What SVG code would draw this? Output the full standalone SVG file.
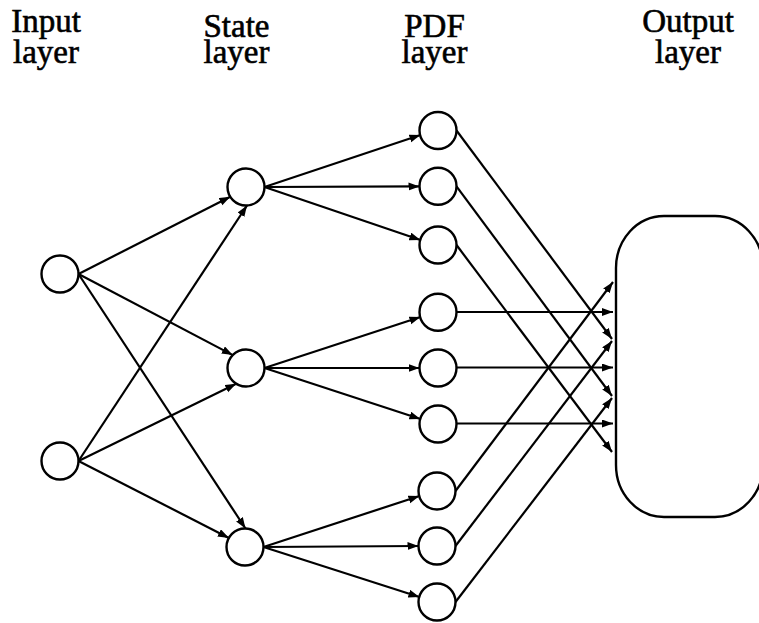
<svg xmlns="http://www.w3.org/2000/svg" width="759" height="623" viewBox="0 0 759 623">
  <style>
    .label { font-family: "Liberation Serif", "Times New Roman", serif; font-size: 33px; fill: #000; stroke: #000; stroke-width: 0.6; text-anchor: middle; }
    .node { fill: #fff; stroke: #000; stroke-width: 2.4; }
    .edge { fill: none; stroke: #000; stroke-width: 2.2; marker-end: url(#arrow); }
  </style>
  <defs>
    <marker id="arrow" markerUnits="userSpaceOnUse" markerWidth="12" markerHeight="9" refX="11" refY="4" orient="auto">
      <path d="M0,0 L11,4 L0,8 Z" fill="#000"/>
    </marker>
  </defs>
  <rect width="759" height="623" fill="#fff"/>

  <!-- column headings, two lines each -->
  <g id="headings">
    <text class="label"><tspan x="46" y="32">Input</tspan><tspan x="46" y="63">layer</tspan></text>
    <text class="label"><tspan x="236.5" y="37">State</tspan><tspan x="236.5" y="63">layer</tspan></text>
    <text class="label"><tspan x="434.5" y="37">PDF</tspan><tspan x="434.5" y="63">layer</tspan></text>
    <text class="label"><tspan x="688" y="32">Output</tspan><tspan x="688" y="63">layer</tspan></text>
  </g>

  <!-- connectors -->
  <g id="connectors">
    <!-- input -> state -->
    <line class="edge" x1="78.5" y1="274" x2="230.3" y2="196.7"/>
    <line class="edge" x1="78.5" y1="274" x2="232.8" y2="355.1"/>
    <line class="edge" x1="78.5" y1="274" x2="245.5" y2="528.5"/>
    <line class="edge" x1="78.5" y1="461" x2="247" y2="205.5"/>
    <line class="edge" x1="78.5" y1="461" x2="236.2" y2="383.7"/>
    <line class="edge" x1="78.5" y1="461" x2="228.9" y2="537.9"/>
    <!-- state -> pdf -->
    <line class="edge" x1="264.5" y1="187" x2="420.4" y2="135"/>
    <line class="edge" x1="264.5" y1="187" x2="419.5" y2="186.4"/>
    <line class="edge" x1="264.5" y1="187" x2="420.4" y2="240"/>
    <line class="edge" x1="264.5" y1="368" x2="420.4" y2="317"/>
    <line class="edge" x1="264.5" y1="368" x2="419.5" y2="368"/>
    <line class="edge" x1="264.5" y1="368" x2="420.4" y2="419"/>
    <line class="edge" x1="263.5" y1="547" x2="419.4" y2="496"/>
    <line class="edge" x1="263.5" y1="547" x2="418.5" y2="546"/>
    <line class="edge" x1="263.5" y1="547" x2="419.4" y2="597"/>
    <!-- pdf -> output -->
    <line class="edge" x1="456.5" y1="130.5" x2="612" y2="339"/>
    <line class="edge" x1="456.5" y1="186.3" x2="612" y2="396"/>
    <line class="edge" x1="456.5" y1="245" x2="612" y2="452"/>
    <line class="edge" x1="456.8" y1="312" x2="613" y2="312"/>
    <line class="edge" x1="456.5" y1="367.5" x2="613" y2="367.5"/>
    <line class="edge" x1="456.5" y1="423.5" x2="613" y2="423.5"/>
    <line class="edge" x1="455.5" y1="491" x2="613" y2="282"/>
    <line class="edge" x1="455.5" y1="546" x2="612" y2="341"/>
    <line class="edge" x1="455.5" y1="602" x2="612" y2="398"/>
  </g>

  <!-- input layer -->
  <g id="input-1"><circle class="node" cx="60" cy="274" r="18.5"/></g>
  <g id="input-2"><circle class="node" cx="60" cy="461" r="18.5"/></g>

  <!-- state layer -->
  <g id="state-1"><circle class="node" cx="246" cy="187" r="18.5"/></g>
  <g id="state-2"><circle class="node" cx="246" cy="368" r="18.5"/></g>
  <g id="state-3"><circle class="node" cx="245" cy="547" r="18.5"/></g>

  <!-- pdf layer -->
  <g id="pdf-1"><circle class="node" cx="438" cy="130.5" r="18.5"/></g>
  <g id="pdf-2"><circle class="node" cx="438" cy="186.3" r="18.5"/></g>
  <g id="pdf-3"><circle class="node" cx="438" cy="245" r="18.5"/></g>
  <g id="pdf-4"><circle class="node" cx="438" cy="312.3" r="18.5"/></g>
  <g id="pdf-5"><circle class="node" cx="438" cy="368" r="18.5"/></g>
  <g id="pdf-6"><circle class="node" cx="438" cy="424" r="18.5"/></g>
  <g id="pdf-7"><circle class="node" cx="437" cy="491" r="18.5"/></g>
  <g id="pdf-8"><circle class="node" cx="437" cy="546" r="18.5"/></g>
  <g id="pdf-9"><circle class="node" cx="437" cy="602" r="18.5"/></g>

  <!-- output layer -->
  <g id="output"><rect class="node" x="616" y="216" width="147" height="301" rx="48" ry="52"/></g>
</svg>
